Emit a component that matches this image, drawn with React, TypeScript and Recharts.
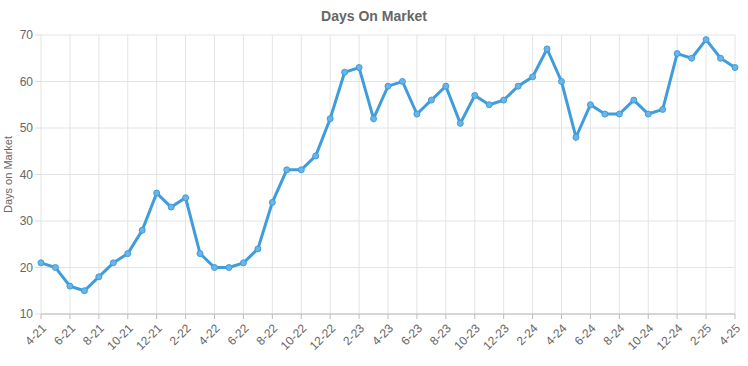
import React from 'react';
import { LineChart, Line, XAxis, YAxis, CartesianGrid } from 'recharts';

// month labels, 4-21 through 4-25
const months: string[] = [
  '4-21', '5-21', '6-21', '7-21', '8-21', '9-21', '10-21', '11-21', '12-21',
  '1-22', '2-22', '3-22', '4-22', '5-22', '6-22', '7-22', '8-22', '9-22', '10-22', '11-22', '12-22',
  '1-23', '2-23', '3-23', '4-23', '5-23', '6-23', '7-23', '8-23', '9-23', '10-23', '11-23', '12-23',
  '1-24', '2-24', '3-24', '4-24', '5-24', '6-24', '7-24', '8-24', '9-24', '10-24', '11-24', '12-24',
  '1-25', '2-25', '3-25', '4-25',
];

const daysOnMarket: number[] = [
  21, 20, 16, 15, 18, 21, 23, 28, 36,
  33, 35, 23, 20, 20, 21, 24, 34, 41, 41, 44, 52,
  62, 63, 52, 59, 60, 53, 56, 59, 51, 57, 55, 56,
  59, 61, 67, 60, 48, 55, 53, 53, 56, 53, 54, 66,
  65, 69, 65, 63,
];

const yTicks: number[] = [10, 20, 30, 40, 50, 60, 70];

const data = months.map((m, i) => ({ month: m, days: daysOnMarket[i] }));

const font = '"Liberation Sans", Arial, sans-serif';

const App: React.FC = () => {
  return (
    <div style={{ position: 'absolute', left: 0, top: 0, width: 748, height: 366, fontFamily: font }}>
      <div
        style={{
          position: 'absolute', top: 8, left: 0, width: 748, textAlign: 'center',
          fontSize: 14, fontWeight: 'bold', color: '#666',
        }}
      >
        Days On Market
      </div>
      <LineChart width={748} height={366} data={data} margin={{ top: 35, right: 13, left: 0, bottom: 2 }}>
        <CartesianGrid stroke="#e4e4e4" />
        <XAxis
          dataKey="month"
          interval={1}
          height={50}
          stroke="#bbb"
          tickSize={5}
          tick={{ fill: '#666', fontSize: 12, angle: -45, textAnchor: 'end', dy: 2 }}
        />
        <YAxis
          domain={[10, 70]}
          ticks={yTicks}
          width={41}
          axisLine={false}
          tickSize={6}
          tickLine={{ stroke: '#ddd' }}
          tick={{ fill: '#666', fontSize: 12 }}
          label={{ value: 'Days on Market', angle: -90, position: 'insideLeft', offset: 8, style: { fill: '#666', fontSize: 11, textAnchor: 'middle' } }}
        />
        <Line
          type="linear"
          dataKey="days"
          stroke="#3f9ddc"
          strokeWidth={3}
          dot={{ r: 3, fill: '#6cb4e6', stroke: '#3f9ddc', strokeWidth: 1 }}
          isAnimationActive={false}
        />
      </LineChart>
    </div>
  );
};

export default App;
